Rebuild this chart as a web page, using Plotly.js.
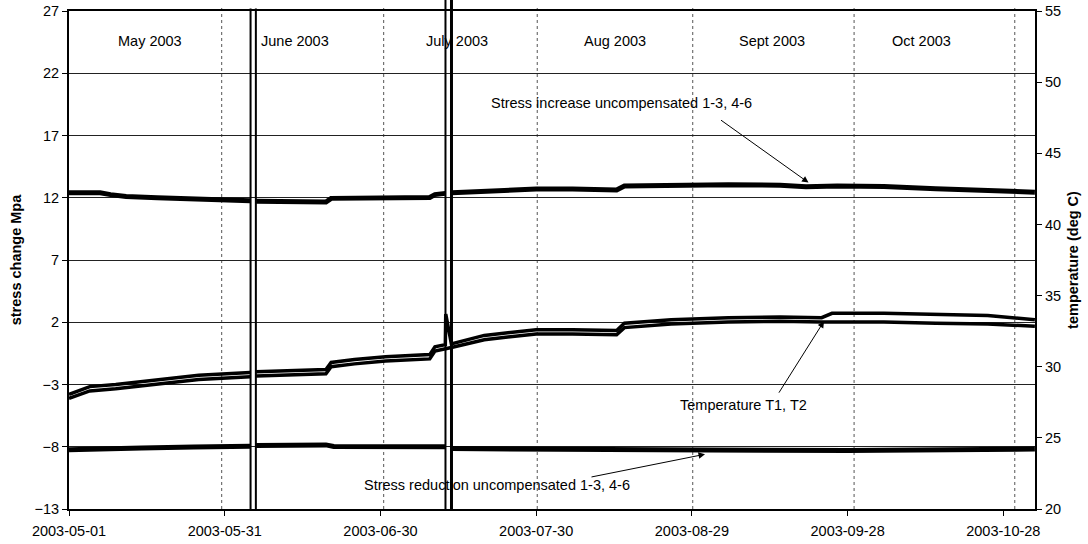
<!DOCTYPE html>
<html><head><meta charset="utf-8">
<script src="https://cdn.plot.ly/plotly-3.0.1.min.js"></script>
<style>html,body{margin:0;padding:0;background:#fff}#chart{width:1088px;height:544px}</style>
</head><body><div id="chart"></div>
<script>
// ---------------- data ----------------
const stressIncDates = ['2003-05-01 00:00','2003-05-04','2003-05-07','2003-05-09','2003-05-12','2003-05-18','2003-05-26','2003-06-04 22:00','2003-06-05 12:00','2003-06-06 01:00','2003-06-12','2003-06-16','2003-06-19 12:00','2003-06-20 12:00','2003-06-28','2003-07-05','2003-07-09 12:00','2003-07-10 12:00','2003-07-12 12:00','2003-07-13 00:00','2003-07-13 18:00','2003-07-20','2003-07-30','2003-08-06','2003-08-14 12:00','2003-08-16','2003-08-25','2003-09-05','2003-09-15','2003-09-20','2003-09-26','2003-10-05','2003-10-15','2003-10-25','2003-11-03 02:00'];
const stressIncValues = [12.40,12.42,12.40,12.25,12.10,12.00,11.85,11.75,null,11.72,11.72,11.68,11.65,11.95,11.97,12.00,12.02,12.25,12.35,null,12.40,12.55,12.70,12.70,12.62,12.95,13.00,13.05,13.00,12.88,12.95,12.90,12.72,12.55,12.45];

const stressRedDates = ['2003-05-01 00:00','2003-05-08','2003-05-15','2003-05-25','2003-06-04 22:00','2003-06-05 12:00','2003-06-06 01:00','2003-06-19 12:00','2003-06-21','2003-07-12 12:00','2003-07-13 00:00','2003-07-13 18:00','2003-08-01','2003-09-01','2003-09-28','2003-10-20','2003-11-03 02:00'];
const stressRedValues = [-8.25,-8.22,-8.10,-8.02,-7.95,null,-7.90,-7.85,-7.98,-8.00,null,-8.15,-8.22,-8.27,-8.30,-8.27,-8.18];

const tempDates = ['2003-05-01 00:00','2003-05-05','2003-05-10','2003-05-15','2003-05-20','2003-05-26','2003-06-04 22:00','2003-06-05 12:00','2003-06-06 01:00','2003-06-19 12:00','2003-06-20 12:00','2003-06-25','2003-07-01','2003-07-09 12:00','2003-07-10 12:00','2003-07-12 12:00','2003-07-12 14:00','2003-07-13 16:00','2003-07-20','2003-07-30','2003-08-06','2003-08-14 12:00','2003-08-16','2003-08-25','2003-09-05','2003-09-15','2003-09-23','2003-09-25','2003-10-05','2003-10-15','2003-10-25','2003-11-03 02:00'];
const tempT1 = [28.06,28.60,28.75,28.95,29.15,29.40,29.60,null,29.65,29.80,30.30,30.50,30.70,30.85,31.40,31.55,33.70,31.60,32.20,32.60,32.60,32.55,33.05,33.30,33.45,33.50,33.45,33.75,33.75,33.65,33.60,33.30];
const tempT2 = [27.78,28.30,28.45,28.65,28.85,29.10,29.30,null,29.35,29.50,30.00,30.20,30.40,30.55,31.10,31.25,31.30,31.35,31.90,32.30,32.30,32.25,32.75,33.00,33.15,33.20,33.15,33.15,33.15,33.05,33.00,32.85];

// data glitches (readings off scale) and month boundary markers
const glitchDates = ['2003-06-04 23:30','2003-06-06 00:00','2003-07-12 12:45','2003-07-13 16:30'];
const monthLineDates = ['2003-05-30 10:00','2003-06-30 15:00','2003-07-30 05:00','2003-08-29 04:00','2003-09-29 06:00','2003-10-30 05:00'];
const monthLabels = ['May 2003','June 2003','July 2003','Aug 2003','Sept 2003','Oct 2003'];

const xTickDates = ['2003-05-01','2003-05-31','2003-06-30','2003-07-30','2003-08-29','2003-09-28','2003-10-28'];
const xTickLabels = ['2003-05-01','2003-05-31','2003-06-30','2003-07-30','2003-08-29','2003-09-28','2003-10-28'];
const leftTicks = [-13,-8,-3,2,7,12,17,22,27];
const rightTicks = [20,25,30,35,40,45,50,55];

const labelStressInc = 'Stress increase uncompensated 1-3, 4-6';
const labelStressRed = 'Stress reduction uncompensated 1-3, 4-6';
const labelTemp = 'Temperature T1, T2';

// ---------------- layout helpers ----------------
const L = 69, R = 1035, T = 11, B = 508.7;
const px = x => (x - L) / (R - L);
const py = y => (B - y) / (B - T);
const FONT = 'Liberation Sans, Arial, sans-serif';

const traces = [
  {x: stressIncDates, y: stressIncValues, type: 'scatter', mode: 'lines', yaxis: 'y', connectgaps: false,
   line: {color: '#000', width: 5}, hoverinfo: 'skip'},
  {x: stressRedDates, y: stressRedValues, type: 'scatter', mode: 'lines', yaxis: 'y', connectgaps: false,
   line: {color: '#000', width: 5}, hoverinfo: 'skip'},
  {x: tempDates, y: tempT1, type: 'scatter', mode: 'lines', yaxis: 'y2', connectgaps: false,
   line: {color: '#000', width: 3.5}, hoverinfo: 'skip'},
  {x: tempDates, y: tempT2, type: 'scatter', mode: 'lines', yaxis: 'y2', connectgaps: false,
   line: {color: '#000', width: 3.5}, hoverinfo: 'skip'}
];

const shapes = [];
monthLineDates.forEach(d => shapes.push({type: 'line', xref: 'x', yref: 'paper', x0: d, x1: d, y0: 0, y1: 1.008,
  line: {color: '#555', width: 1, dash: 'dot'}, layer: 'below'}));
glitchDates.forEach((d, i) => shapes.push({type: 'line', xref: 'x', yref: 'paper', x0: d, x1: d, y0: 0,
  y1: i < 2 ? 1.005 : 1.022, line: {color: '#000', width: i === 3 ? 3 : 2}, layer: 'above'}));

const monthCenters = [150.3, 294.7, 457, 615, 772, 921];
const annotations = monthLabels.map((t, i) => ({text: t, xref: 'paper', yref: 'paper', x: px(monthCenters[i]), y: py(41),
  showarrow: false, xanchor: 'center', yanchor: 'middle', font: {family: FONT, size: 14.5, color: '#000'}}));

annotations.push({text: labelStressInc, xref: 'paper', yref: 'paper', x: px(621.3), y: py(103.3), showarrow: false,
  xanchor: 'center', yanchor: 'middle', font: {family: FONT, size: 14.5, color: '#000'}});
annotations.push({text: labelTemp, xref: 'paper', yref: 'paper', x: px(743), y: py(405), showarrow: false,
  xanchor: 'center', yanchor: 'middle', font: {family: FONT, size: 14.5, color: '#000'}});
annotations.push({text: labelStressRed, xref: 'paper', yref: 'paper', x: px(497), y: py(485), showarrow: false,
  xanchor: 'center', yanchor: 'middle', font: {family: FONT, size: 14.5, color: '#000'}});

function arrow(hx, hy, tx, ty) {
  return {text: '', xref: 'paper', yref: 'paper', x: px(hx), y: py(hy), ax: tx - hx, ay: ty - hy,
    axref: 'pixel', ayref: 'pixel', showarrow: true, arrowhead: 2, arrowsize: 1.3, arrowwidth: 1, arrowcolor: '#000', standoff: 0};
}
annotations.push(arrow(808.5, 182.5, 719.5, 119));
annotations.push(arrow(824, 321, 778, 394));
annotations.push(arrow(705, 454, 590, 477));

const layout = {
  width: 1088, height: 544,
  margin: {l: L, r: 1088 - R, t: T, b: 544 - B},
  paper_bgcolor: '#fff', plot_bgcolor: '#fff',
  showlegend: false,
  font: {family: FONT, size: 14.5, color: '#000'},
  xaxis: {type: 'date', range: ['2003-05-01 00:00', '2003-11-03 02:30'],
    tickvals: xTickDates, ticktext: xTickLabels, ticks: 'outside', ticklen: 5, tickwidth: 1, tickcolor: '#000',
    ticklabelstandoff: 3,
    showline: true, linewidth: 2, linecolor: '#000', mirror: true, showgrid: false, zeroline: false,
    tickfont: {family: FONT, size: 14.5, color: '#000'}},
  yaxis: {range: [-13, 27], tickvals: leftTicks, ticks: 'outside', ticklen: 5, tickwidth: 1, tickcolor: '#000',
    showline: true, linewidth: 2, linecolor: '#000', showgrid: true, gridcolor: '#222', gridwidth: 1, zeroline: false,
    tickfont: {family: FONT, size: 14.5, color: '#000'},
    title: {text: '<b>stress change Mpa</b>', font: {family: FONT, size: 14.5, color: '#000'}, standoff: 9}},
  yaxis2: {range: [20, 55], tickvals: rightTicks, overlaying: 'y', side: 'right', ticks: 'outside', ticklen: 5, tickwidth: 1,
    tickcolor: '#000', showline: true, linewidth: 2, linecolor: '#000', showgrid: false, zeroline: false,
    tickfont: {family: FONT, size: 14.5, color: '#000'},
    title: {text: '<b>temperature (deg C)</b>', font: {family: FONT, size: 14.5, color: '#000'}, standoff: 8}},
  shapes: shapes,
  annotations: annotations
};

Plotly.newPlot('chart', traces, layout, {staticPlot: true, displayModeBar: false});
</script>
</body></html>
